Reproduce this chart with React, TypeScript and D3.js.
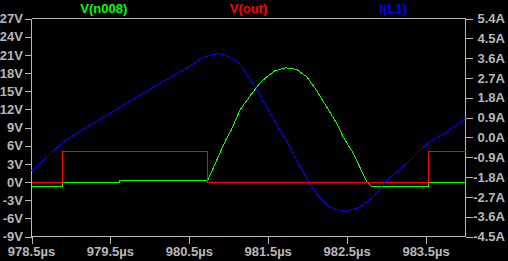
import React from "react";
import * as d3 from "d3";

// ---- data ----
const tN008 = [978.5, 978.89, 978.89, 979.61, 979.61, 980.73, 980.96, 981.03, 981.14, 981.26, 981.39, 981.48, 981.58, 981.72, 981.86, 981.99, 982.11, 982.24, 982.37, 982.45, 982.58, 982.68, 982.75, 982.81, 983.53, 983.53, 984.0];
const vN008 = [-0.78, -0.78, 0.0, 0.0, 0.2, 0.2, 6.88, 8.54, 11.85, 14.05, 16.27, 17.36, 18.35, 18.85, 18.59, 17.36, 15.16, 12.4, 9.65, 7.43, 4.68, 1.92, -0.02, -0.75, -0.75, 0.0, 0.0];

const tOut = [978.5, 978.89, 978.89, 980.73, 980.73, 983.53, 983.53, 984.0];
const vOut = [0, 0, 5, 5, 0, 0, 5, 5];

const tL1 = [978.5, 978.9, 979.13, 979.5, 980.0, 980.38, 980.51, 980.64, 980.76, 980.87, 981.01, 981.13, 981.22, 981.35, 981.48, 981.65, 981.73, 981.86, 981.99, 982.11, 982.28, 982.47, 982.66, 982.83, 983.0, 983.25, 983.51, 983.76, 984.0];
const iL1 = [-1.53, -0.21, 0.32, 1.11, 2.19, 2.98, 3.24, 3.57, 3.74, 3.81, 3.66, 3.36, 2.9, 2.22, 1.38, 0.32, -0.13, -1.04, -1.88, -2.56, -3.17, -3.36, -3.17, -2.71, -1.95, -1.19, -0.28, 0.25, 0.86];

const voltTicks = [-9, -6, -3, 0, 3, 6, 9, 12, 15, 18, 21, 24, 27];
const ampTicks = [-4.5, -3.6, -2.7, -1.8, -0.9, 0.0, 0.9, 1.8, 2.7, 3.6, 4.5, 5.4];
const timeTicks = [978.5, 979.5, 980.5, 981.5, 982.5, 983.5];
const titles = ["V(n008)", "V(out)", "I(L1)"];
const titleColors = ["#00ff00", "#ff0000", "#0000ff"];

const W = 508, H = 261;
const L = 31.5, R = 465.5, T = 18.5, B = 236.5;
const AX = "#b8b8b8";
const FONT = "'Liberation Sans', Arial, sans-serif";

export default function App() {
  const x = d3.scaleLinear().domain([978.5, 984]).range([L, R]);
  const yV = d3.scaleLinear().domain([-9, 27]).range([B, T]);
  const yA = d3.scaleLinear().domain([-4.5, 5.4]).range([B, T]);

  const lineV = d3.line<[number, number]>().x((d) => x(d[0])).y((d) => yV(d[1]));
  const lineA = d3.line<[number, number]>().x((d) => x(d[0])).y((d) => yA(d[1]));

  const nData = tN008.map((t, i) => [t, vN008[i]] as [number, number]);
  const oData = tOut.map((t, i) => [t, vOut[i]] as [number, number]);
  const lData = tL1.map((t, i) => [t, iL1[i]] as [number, number]);

  const third = (R - L) / 3;

  return (
    <svg
      width={W}
      height={H}
      style={{ position: "absolute", left: 0, top: 0, display: "block", background: "#000" }}
    >
      <rect x={0} y={0} width={W} height={H} fill="#000" />
      {titles.map((t, i) => (
        <text
          key={t}
          x={L + third * (i + 0.5)}
          y={13}
          textAnchor="middle"
          fill={titleColors[i]}
          fontFamily={FONT}
          fontWeight="bold"
          fontSize={13}
        >
          {t}
        </text>
      ))}
      {/* frame lines */}
      <g stroke={AX} strokeWidth={1} shapeRendering="crispEdges">
        <line x1={L} x2={R} y1={T} y2={T} />
        <line x1={L} x2={R} y1={B} y2={B} />
        <line x1={L} x2={L} y1={T} y2={B} />
        <line x1={R} x2={R} y1={T} y2={B} />
        {voltTicks.map((v) => (
          <line key={"vt" + v} x1={L - 7} x2={L} y1={Math.round(yV(v)) + 0.5} y2={Math.round(yV(v)) + 0.5} />
        ))}
        {ampTicks.map((v) => (
          <line key={"at" + v} x1={R} x2={R + 7} y1={Math.round(yA(v)) + 0.5} y2={Math.round(yA(v)) + 0.5} />
        ))}
        {timeTicks.map((v) => (
          <line key={"tt" + v} x1={Math.round(x(v)) + 0.5} x2={Math.round(x(v)) + 0.5} y1={B} y2={B + 7} />
        ))}
      </g>
      <g fill={AX} fontFamily={FONT} fontWeight="bold" fontSize={13}>
        {voltTicks.map((v) => (
          <text key={"vl" + v} x={23} y={yV(v)} dy="0.36em" textAnchor="end">
            {`${v}V`}
          </text>
        ))}
        {ampTicks.map((v) => (
          <text key={"al" + v} x={505} y={yA(v)} dy="0.36em" textAnchor="end">
            {`${v.toFixed(1)}A`}
          </text>
        ))}
        {timeTicks.map((v) => (
          <text key={"tl" + v} x={x(v)} y={255.5} textAnchor="middle">
            {`${v.toFixed(1)}µs`}
          </text>
        ))}
      </g>
      <g fill="none" strokeWidth={1} shapeRendering="crispEdges">
        <path d={lineV(nData) || ""} stroke="#00ff00" />
        <path d={lineV(oData) || ""} stroke="#ff0000" />
        <path d={lineA(lData) || ""} stroke="#0000ff" />
      </g>
    </svg>
  );
}
